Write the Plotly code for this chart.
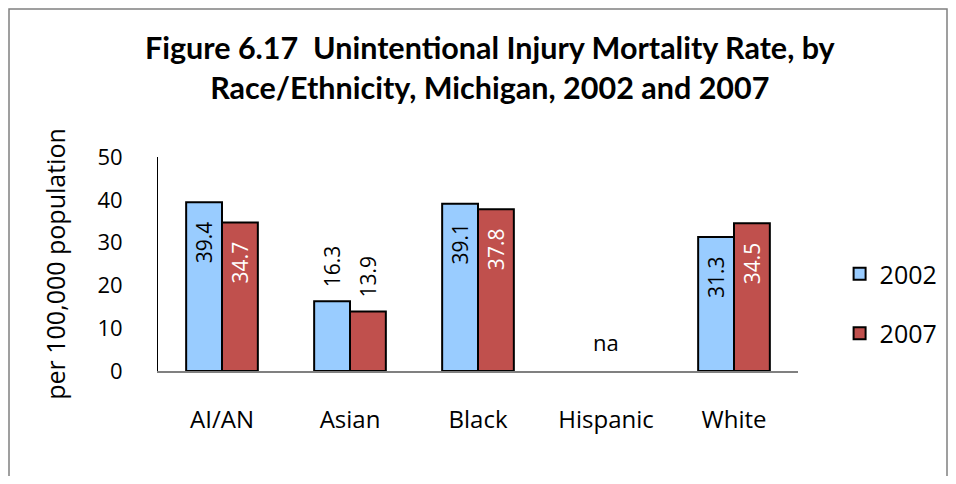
import plotly.graph_objects as go

categories = ["AI/AN", "Asian", "Black", "Hispanic", "White"]
rate_2002 = [39.4, 16.3, 39.1, None, 31.3]
rate_2007 = [34.7, 13.9, 37.8, None, 34.5]
label_pos = ["inside", "outside", "inside", "inside", "inside"]
na_category = "Hispanic"

FONT = "Open Sans"
PAD = "\u00a0\u00a0\u00a0"

def fmt(v, pos):
    if v is None:
        return ""
    s = f"{v:.1f}"
    return s + PAD if pos == "inside" else PAD[:2] + s

W, H = 940, 468
L, R, T, B = 150, 150, 149, 105
PW, PH = W - L - R, H - T - B

fig = go.Figure()
fig.add_trace(go.Bar(
    name="2002", x=categories, y=rate_2002, legendgroup="a",
    marker=dict(color="#99CCFF", line=dict(color="black", width=2)),
    text=[fmt(v, p) for v, p in zip(rate_2002, label_pos)], textposition=label_pos,
    insidetextanchor="end", textangle=-90, cliponaxis=False,
    textfont=dict(family=FONT, size=21, color="black"),
))
fig.add_trace(go.Bar(
    name="2007", x=categories, y=rate_2007, legendgroup="b",
    marker=dict(color="#C0504D", line=dict(color="black", width=2)),
    text=[fmt(v, p) for v, p in zip(rate_2007, label_pos)], textposition=label_pos,
    insidetextanchor="end", textangle=-90, cliponaxis=False,
    insidetextfont=dict(family=FONT, size=21, color="white"),
    outsidetextfont=dict(family=FONT, size=21, color="black"),
))

fig.add_annotation(x=na_category, y=0, yanchor="bottom", yshift=12, text="na",
                   showarrow=False, font=dict(family=FONT, size=22, color="black"))

fig.add_annotation(x=0.52, y=1 + 50 / PH, xref="paper", yref="paper",
                   text="<b>Figure 6.17  Unintentional Injury Mortality Rate, by<br>Race/Ethnicity, Michigan, 2002 and 2007</b>",
                   showarrow=False, font=dict(family="Lato", size=30.5, color="black"),
                   align="center", yanchor="bottom")

fig.add_shape(type="rect", xref="paper", yref="paper",
              x0=-(L - 1) / PW, x1=1 + (R - 1) / PW,
              y0=-(B + 20) / PH, y1=1 + (T - 1) / PH,
              line=dict(color="#808080", width=1.5), fillcolor="rgba(0,0,0,0)")

fig.update_layout(
    width=W, height=H,
    margin=dict(l=L, r=R, t=T, b=B, autoexpand=False),
    paper_bgcolor="white", plot_bgcolor="white",
    barmode="group", bargap=0.44, bargroupgap=0,
    font=dict(family=FONT, size=22, color="black"),
    uniformtext=dict(minsize=21, mode="show"),
    legend=dict(x=1.065, y=0.315, xanchor="left", yanchor="middle",
                font=dict(family=FONT, size=25), tracegroupgap=24,
                itemsizing="constant"),
    showlegend=True,
)
fig.update_yaxes(range=[0, 50], dtick=10, showgrid=False, showline=True,
                 linecolor="black", linewidth=1, zeroline=False, automargin=False,
                 ticklabelstandoff=30, tickfont=dict(family=FONT, size=22),
                 title=dict(text="per 100,000 population", font=dict(family=FONT, size=25), standoff=24))
fig.update_xaxes(showgrid=False, showline=True, linecolor="#808080", linewidth=1.5,
                 automargin=False,
                 ticklabelstandoff=26, tickfont=dict(family=FONT, size=24))

fig.write_html("out.html")
